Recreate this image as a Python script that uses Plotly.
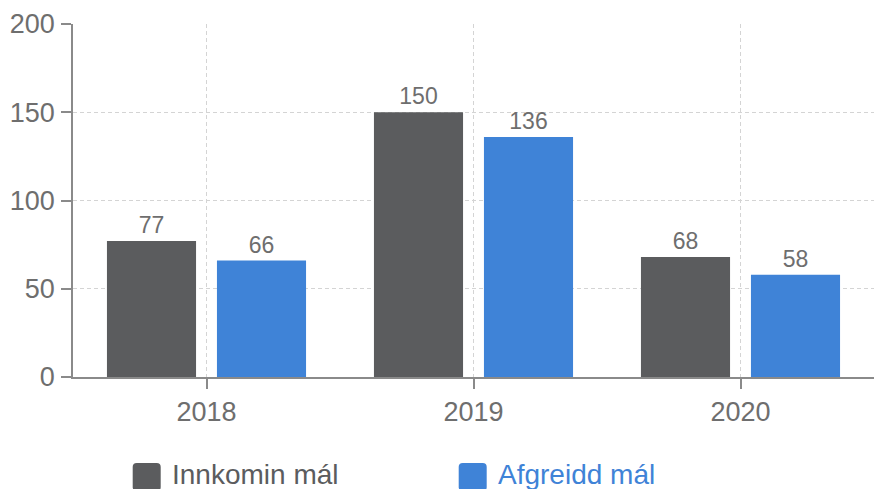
import plotly.graph_objects as go

years = ["2018", "2019", "2020"]
innkomin = [77, 150, 68]
afgreidd = [66, 136, 58]
series_names = ["Innkomin mál", "Afgreidd mál"]
colors = ["#5b5c5e", "#3f83d7"]

fig = go.Figure()
for name, vals, col in zip(series_names, [innkomin, afgreidd], colors):
    fig.add_trace(go.Bar(
        x=years, y=vals, name=name, marker_color=col, marker_line_width=0,
        text=vals, textposition="outside", cliponaxis=False,
        textfont=dict(size=23, color="#6e6e6e"),
    ))

axis_common = dict(
    showline=True, linecolor="#8a8a8a", linewidth=1.5,
    ticks="outside", ticklen=10, tickcolor="#8a8a8a", tickwidth=1.5,
    showgrid=True, gridcolor="#d4d4d4", griddash="4px,3px", gridwidth=1.2,
    tickfont=dict(size=27, color="#6e6e6e"), zeroline=False,
)

fig.update_layout(
    width=874, height=489,
    margin=dict(l=73, r=0, t=24, b=112),
    plot_bgcolor="white", paper_bgcolor="white",
    font=dict(family="Liberation Sans, Arial, sans-serif"),
    barmode="group", bargap=0.176, bargroupgap=0.19,
    showlegend=False,
    xaxis=dict(axis_common, range=[-0.5, 2.5]),
    yaxis=dict(axis_common, range=[0, 200], dtick=50, ticklabelstandoff=1),
)

# custom legend with rounded squares and coloured labels
def rounded_square(x0, x1, y0, y1, rx, ry):
    return (f"M {x0+rx},{y1} L {x1-rx},{y1} Q {x1},{y1} {x1},{y1-ry} "
            f"L {x1},{y0+ry} Q {x1},{y0} {x1-rx},{y0} L {x0+rx},{y0} "
            f"Q {x0},{y0} {x0},{y0+ry} L {x0},{y1-ry} Q {x0},{y1} {x0+rx},{y1} Z")

W, H = 801, 353
def px(x):
    return (x - 73) / W
def py(y):
    return (377 - y) / H

legend_x = [132.7, 458.7]
for lx, name, col in zip(legend_x, series_names, colors):
    fig.add_shape(type="path", xref="paper", yref="paper",
                  path=rounded_square(px(lx), px(lx + 28), py(491), py(463), 4 / W, 4 / H),
                  fillcolor=col, line_width=0)
    fig.add_annotation(x=px(lx + 37), y=py(474), xref="paper", yref="paper",
                       text=name, showarrow=False, xanchor="left", yanchor="middle",
                       font=dict(size=28, color=col))

fig.write_html("out.html", config={"displayModeBar": False},
               post_script="document.body.style.margin='0';")
